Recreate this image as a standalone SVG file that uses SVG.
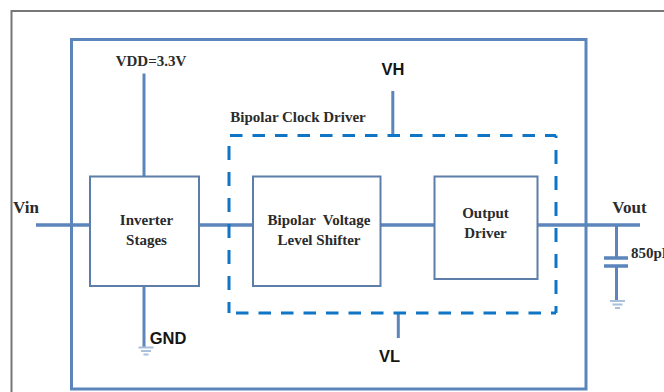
<svg xmlns="http://www.w3.org/2000/svg" width="664" height="392" viewBox="0 0 664 392">
<defs><style>
.wire{fill:none;stroke:#5b85bb;stroke-width:3}
.sig{fill:none;stroke:#5b85bb;stroke-width:3.500}
.box{fill:#fff;stroke:#5d7ea8;stroke-width:2}
.dash{fill:none;stroke:#0f75c4;stroke-width:3}
.t{font-family:"Liberation Serif",serif;font-weight:700;font-size:15px;fill:#2b2b2b;text-anchor:middle}
.v{font-size:17px}
.s{font-family:"Liberation Sans",sans-serif;font-weight:700;font-size:16.500px;fill:#151515;text-anchor:middle}
.g{fill:none;stroke:#a9bfdc;stroke-width:1.800}
</style></defs>
<rect width="664" height="392" fill="#fff"/>
<path id="page-frame" d="M11.500 392V11H664" fill="none" stroke="#777" stroke-width="2"/>
<g id="connectors">
<path class="wire" d="M144 73.500V176M144 286V348M616.500 225V258M616.500 266V302M392.800 91V135M398.300 313V338"/>
<path class="sig" d="M36 225H90M199 225H253M381 225H434M538 225H640M604 258H628M604 266H628"/>
<path class="g" d="M138.500 347.500H153.500M141 351H151M143.500 354.500H148.500M610 301H625M612.500 304.500H622.500M615 308H620"/>
</g>
<rect id="enclosure" x="71.500" y="39.500" width="514.500" height="349.500" fill="none" stroke="#5b85bb" stroke-width="3"/>
<g id="inverter"><rect class="box" x="90" y="176.500" width="109" height="109.500"/><text class="t" x="146.500" y="225">Inverter</text><text class="t" x="146.500" y="245">Stages</text></g>
<g id="level-shifter"><rect class="box" x="253" y="176.500" width="127.500" height="109.500"/><text class="t" x="319" y="225" xml:space="preserve">Bipolar  Voltage</text><text class="t" x="319" y="245">Level Shifter</text></g>
<g id="output-driver"><rect class="box" x="434.500" y="176.500" width="103" height="102.500"/><text class="t" x="485.500" y="218">Output</text><text class="t" x="485.500" y="238">Driver</text></g>
<g id="clock-driver">
<path class="dash" stroke-dasharray="12.500 10" d="M230 135.500H556"/>
<path class="dash" stroke-dasharray="14 12" stroke-dashoffset="11.500" d="M556 135.500V313"/>
<path class="dash" stroke-dasharray="12.500 10" d="M236 313H556"/>
<path class="dash" stroke-dasharray="14 12" stroke-dashoffset="3" d="M229 313V135.500"/>
<text class="t" x="298" y="121.500">Bipolar Clock Driver</text>
</g>
<g id="labels">
<text class="t" x="151" y="66">VDD=3.3V</text>
<text class="s" x="393" y="75">VH</text>
<text class="s" x="389.500" y="362">VL</text>
<text class="s" x="168" y="343.500">GND</text>
<text class="t v" x="26" y="213">Vin</text>
<text class="t v" x="629.500" y="213">Vout</text>
<text class="t" x="631" y="258" style="text-anchor:start">850pF</text>
</g>
</svg>
